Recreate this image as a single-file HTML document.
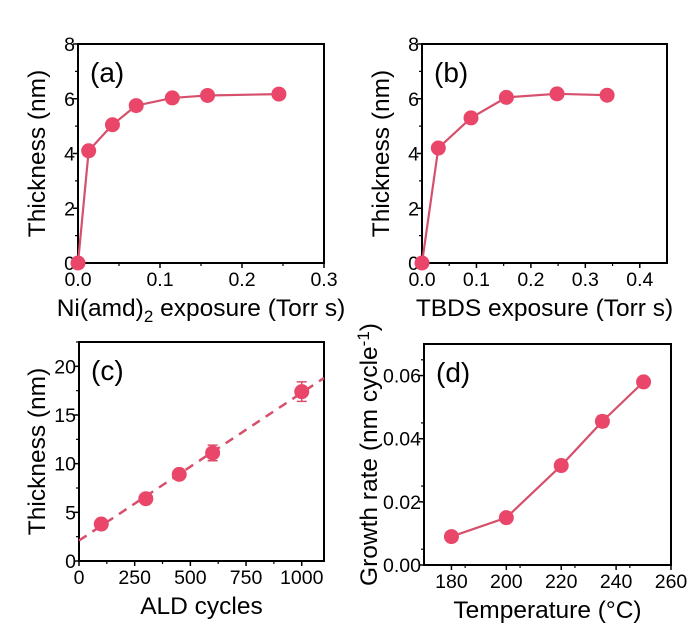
<!DOCTYPE html>
<html><head><meta charset="utf-8"><style>
body{margin:0;background:#fff;}
svg{display:block;font-family:"Liberation Sans",Arial,sans-serif;}
</style></head><body>
<svg id="fig" width="700" height="629" viewBox="0 0 700 629"></svg>
<script>
// Panel (a)
const aX=[0,0.013,0.042,0.071,0.115,0.158,0.245];
const aY=[0,4.1,5.05,5.75,6.03,6.12,6.17];
// Panel (b)
const bX=[0,0.03,0.09,0.155,0.248,0.34];
const bY=[0,4.2,5.3,6.05,6.18,6.13];
// Panel (c)
const cX=[100,300,450,600,1000];
const cY=[3.8,6.4,8.9,11.1,17.4];
const cErr=[0.3,0.3,0.5,0.8,1.0];
const cFitX=[0,1100];
const cFitY=[2.1,18.8];
// Panel (d)
const dX=[180,200,220,235,250];
const dY=[0.009,0.015,0.0315,0.0455,0.058];
const dErr=[0.0008,0.0012,0.0012,0.0018,0.0012];
// ticks
const aXT=["0.0","0.1","0.2","0.3"], aYT=["0","2","4","6","8"];
const bXT=["0.0","0.1","0.2","0.3","0.4"], bYT=aYT;
const cXT=["0","250","500","750","1000"], cYT=["0","5","10","15","20"];
const dXT=["180","200","220","240","260"], dYT=["0.00","0.02","0.04","0.06"];

const NS="http://www.w3.org/2000/svg";
const svg=document.getElementById('fig');
const RED="#e94669", LINE="#d6506c";
function el(t,a,p){const e=document.createElementNS(NS,t);for(const k in a)e.setAttribute(k,a[k]);(p||svg).appendChild(e);return e;}

function panel(o){
  const g=el('g',{});
  
  
  const sx=v=>o.L+(v-o.x0)/(o.x1-o.x0)*(o.R-o.L);
  const sy=v=>o.B-(v-o.y0)/(o.y1-o.y0)*(o.B-o.T);
  o.xt.forEach((t,i)=>{const v=parseFloat(t);const x=sx(v);
    el('line',{x1:x,x2:x,y1:o.B,y2:o.B+5,stroke:'#000','stroke-width':1.5},g);
    const tx=el('text',{x:x,y:o.B+23,'text-anchor':'middle','font-size':19.5},g);tx.textContent=t;
    
    if(i<o.xt.length-1){const m=sx(v+o.xs/2); if(m<=o.R) el('line',{x1:m,x2:m,y1:o.B,y2:o.B+3,stroke:'#000','stroke-width':1.2},g);}
  });
  o.yt.forEach((t,i)=>{const v=parseFloat(t);const y=sy(v);
    el('line',{x1:o.L,x2:o.L-5,y1:y,y2:y,stroke:'#000','stroke-width':1.5},g);
    const tx=el('text',{x:o.L-3,y:y+7,'text-anchor':'end','font-size':19.5},g);tx.textContent=t;
    
    const m=sy(v+o.ys/2); if(m>=o.T) el('line',{x1:o.L,x2:o.L-3,y1:m,y2:m,stroke:'#000','stroke-width':1.2},g);
  });
  const fr=el('rect',{x:o.L,y:o.T,width:o.R-o.L,height:o.B-o.T,fill:'none',stroke:'#000','stroke-width':2},g);
  
  if(o.fitX){const l=el('line',{x1:sx(o.fitX[0]),y1:sy(o.fitY[0]),x2:sx(o.fitX[1]),y2:sy(o.fitY[1]),stroke:LINE,'stroke-width':2.5,'stroke-dasharray':'9,7'},g);
    }
  else{const p=el('polyline',{points:o.X.map((x,i)=>sx(x)+','+sy(o.Y[i])).join(' '),fill:'none',stroke:LINE,'stroke-width':2.2},g);
    }
  o.X.forEach((x,i)=>{
    if(o.E){const e=o.E[i];const cx=sx(x);
      el('path',{d:`M${cx},${sy(o.Y[i]-e)}V${sy(o.Y[i]+e)}M${cx-5},${sy(o.Y[i]-e)}h10M${cx-5},${sy(o.Y[i]+e)}h10`,stroke:LINE,'stroke-width':1.5,fill:'none'},g);}
    const c=el('circle',{cx:sx(x),cy:sy(o.Y[i]),r:7.5,fill:RED},g);
    
  });
  const lb=el('text',{x:o.L+12,y:o.T+38,'font-size':28},g);lb.textContent=o.label;
  
  const xt=el('text',{x:(o.L+o.R)/2,y:o.B+53,'text-anchor':'middle','font-size':24.5},g);xt.innerHTML=o.xtitle;
  
  const yc=(o.T+o.B)/2;
  const yt=el('text',{x:o.ytx,y:yc,'text-anchor':'middle','font-size':24.5,transform:`rotate(-90 ${o.ytx} ${yc})`},g);yt.innerHTML=o.ytitle;
  
}
panel({name:'panel-a',L:78,R:324,T:44,B:263,x0:0,x1:0.3,y0:0,y1:8,xs:0.1,ys:2,xt:aXT,yt:aYT,X:aX,Y:aY,label:'(a)',
  xtitle:'Ni(amd)<tspan font-size="17" dy="6">2</tspan><tspan dy="-6"> exposure (Torr s)</tspan>',ytitle:'Thickness (nm)',ytx:45});
panel({name:'panel-b',L:422,R:667,T:44,B:263,x0:0,x1:0.45,y0:0,y1:8,xs:0.1,ys:2,xt:bXT,yt:bYT,X:bX,Y:bY,label:'(b)',
  xtitle:'TBDS exposure (Torr s)',ytitle:'Thickness (nm)',ytx:389});
panel({name:'panel-c',L:79,R:324,T:342,B:561,x0:0,x1:1100,y0:0,y1:22.5,xs:250,ys:5,xt:cXT,yt:cYT,X:cX,Y:cY,E:cErr,fitX:cFitX,fitY:cFitY,label:'(c)',
  xtitle:'ALD cycles',ytitle:'Thickness (nm)',ytx:45});
panel({name:'panel-d',L:424,R:671,T:344,B:565,x0:170,x1:260,y0:0,y1:0.07,xs:10,ys:0.01,xt:dXT,yt:dYT,X:dX,Y:dY,E:dErr,label:'(d)',
  xtitle:'Temperature (°C)',ytitle:'Growth rate (nm cycle<tspan font-size="17" dy="-8">-1</tspan><tspan dy="8">)</tspan>',ytx:377});
</script>
</body></html>
